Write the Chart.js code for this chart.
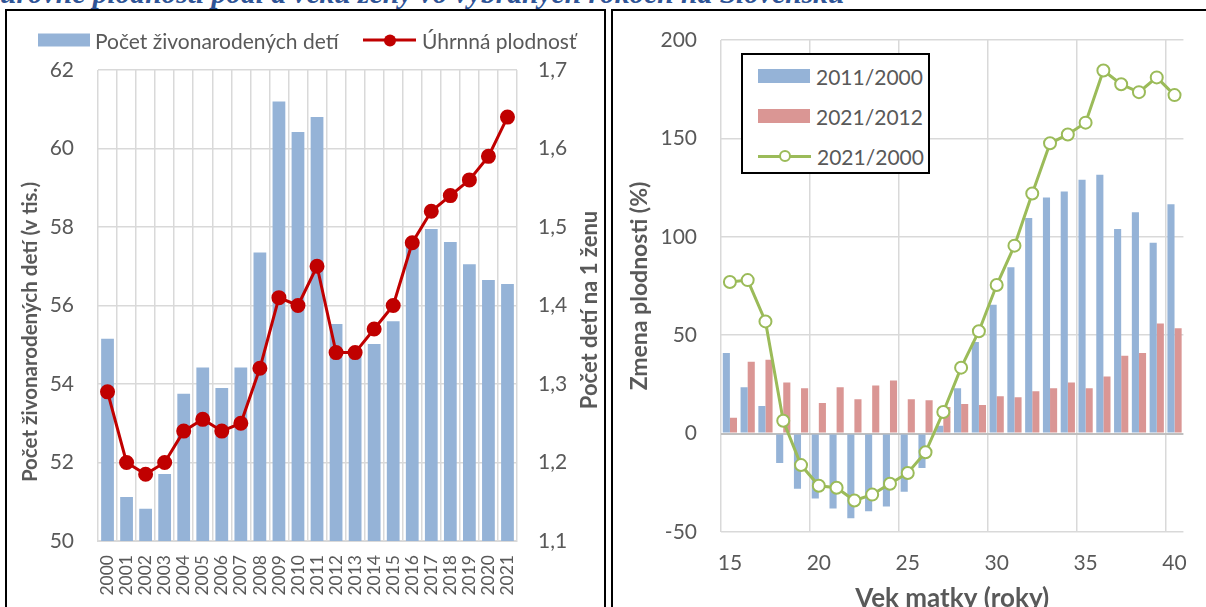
<!DOCTYPE html>
<html lang="sk">
<head>
<meta charset="utf-8">
<script src="https://cdn.jsdelivr.net/npm/chart.js@4.4.1/dist/chart.umd.min.js"></script>
<style>
html, body { margin: 0; padding: 0; }
body { width: 1206px; height: 607px; overflow: hidden; position: relative; background: #fff; font-family: Lato, sans-serif; color: #595959; }
#caption { position: absolute; left: 0; bottom: 598px; font: italic bold 28px/1 "Liberation Serif", serif; color: #2f5496; white-space: nowrap; }
.frame { position: absolute; border: 2px solid #000; box-sizing: border-box; }
#frameL { left: 5px; top: 9px; width: 601px; height: 640px; }
#frameR { left: 611px; top: 9px; width: 640px; height: 640px; border-width: 2px 0 0 2px; }
#wrapL { position: absolute; left: 0; top: 0; width: 605px; height: 607px; }
#wrapR { position: absolute; left: 612px; top: 0; width: 594px; height: 630px; }
#legL { position: absolute; left: 0; top: 27px; width: 600px; height: 26px; font-size: 21px; white-space: nowrap; }
#legL > * { position: absolute; top: 50%; transform: translateY(-50%); }
#legR { position: absolute; left: 741px; top: 53px; width: 189px; height: 121px; border: 2px solid #000; box-sizing: border-box; background: #fff; font-size: 21px; }
.row { position: absolute; left: 15px; display: flex; align-items: center; white-space: nowrap; }
.sw-bar { display: inline-block; width: 52px; height: 13px; margin-right: 6px; }
.sw-line { display: inline-block; position: relative; width: 53px; height: 3px; margin-right: 6px; }
.sw-line i { position: absolute; left: 50%; top: 50%; width: 12px; height: 12px; border-radius: 50%; transform: translate(-50%, -50%); box-sizing: border-box; }
</style>
</head>
<body>
<div id="caption">úrovne plodnosti podľa veku ženy vo vybraných rokoch na Slovensku</div>
<div class="frame" id="frameL"></div>
<div class="frame" id="frameR"></div>
<div id="wrapL"><canvas id="left"></canvas></div>
<div id="wrapR"><canvas id="right"></canvas></div>
<div id="legL"></div>
<div id="legR"></div>
<script>
// left chart: births (thousands) and total fertility rate
const years = ['2000', '2001', '2002', '2003', '2004', '2005', '2006', '2007', '2008', '2009', '2010',
    '2011', '2012', '2013', '2014', '2015', '2016', '2017', '2018', '2019', '2020', '2021']
const births = [55.15, 51.12, 50.82, 51.71, 53.75, 54.42, 53.9, 54.42, 57.35, 61.2, 60.42,
    60.8, 55.53, 54.82, 55.02, 55.6, 57.58, 57.95, 57.62, 57.05, 56.65, 56.55]
const tfr = [1.29, 1.2, 1.185, 1.2, 1.24, 1.255, 1.24, 1.25, 1.32, 1.41, 1.4,
    1.45, 1.34, 1.34, 1.37, 1.4, 1.48, 1.52, 1.54, 1.56, 1.59, 1.64]
const birthsLabel = 'Počet živonarodených detí'
const tfrLabel = 'Úhrnná plodnosť'
const birthsTitle = 'Počet živonarodených detí (v tis.)'
const tfrTitle = 'Počet detí na 1 ženu'

// right chart: change of fertility by mother's age (%)
const ages = ['15', '16', '17', '18', '19', '20', '21', '22', '23', '24', '25', '26', '27',
    '28', '29', '30', '31', '32', '33', '34', '35', '36', '37', '38', '39', '40']
const change2011 = [41, 23.5, 14, -15, -28, -33, -38, -43, -39.5, -37, -29.5, -17.5, 4,
    23, 46.5, 65.5, 84.5, 109.5, 120, 123, 129, 131.5, 104, 112.5, 97, 116.5]
const change2021 = [8, 36.5, 37.5, 26, 23, 15.5, 23.5, 17.5, 24.5, 27, 17.5, 17, 13.5,
    15, 14.5, 19, 18.5, 21.5, 23, 26, 23, 29, 39.5, 41, 56, 53.5]
const change2100 = [77, 78, 57, 6.5, -16, -26.5, -27.5, -34, -31, -25.5, -20, -9.5, 11,
    33.5, 52, 75.5, 95.5, 122, 147.5, 152, 158, 184.5, 177.5, 173.5, 181, 172]
const rightNames = ['2011/2000', '2021/2012', '2021/2000']
const ageTitle = 'Vek matky (roky)'
const changeTitle = 'Zmena plodnosti (%)'

const grey = '#595959'
const gridGrey = '#d9d9d9'
const blue = '#95b3d7'
const red = '#c00000'
const pink = '#da9694'
const green = '#9bbb59'

// caption is cut by the top edge, stretch it to its width in the source
const caption = document.getElementById('caption')
caption.style.fontSize = (28 * 845 / caption.offsetWidth) + 'px'

// legends
const legL = document.getElementById('legL')
legL.innerHTML = `<span class="sw-bar" style="left:38px;background:${blue}"></span>` +
    `<span style="left:95px">${birthsLabel}</span>` +
    `<span class="sw-line" style="left:363px;background:${red}"><i style="background:${red}"></i></span>` +
    `<span style="left:422px">${tfrLabel}</span>`

const legR = document.getElementById('legR')
let rows = ''
rightNames.forEach((name, i) => {
    const top = 8 + i * 40
    let sw
    if (i < 2) {
        sw = `<span class="sw-bar" style="background:${i == 0 ? blue : pink};height:14px"></span>`
    } else {
        sw = `<span class="sw-line" style="background:${green}"><i style="background:#fff;border:2px solid ${green}"></i></span>`
    }
    rows += `<div class="row" style="top:${top}px;height:26px">${sw}<span>${name}</span></div>`
})
legR.innerHTML = rows

// both axis titles of the left chart read upwards and sit off the plot centre,
// so they are drawn here rather than by the scales
function upText(ctx, text, x, y, size) {
    ctx.save()
    ctx.translate(x, y)
    ctx.rotate(-Math.PI / 2)
    ctx.font = `bold ${size}px Lato`
    ctx.fillStyle = grey
    ctx.textAlign = 'center'
    ctx.textBaseline = 'middle'
    ctx.fillText(text, 0, 0)
    ctx.restore()
}

const sideTitles = {
    id: 'sideTitles',
    afterDraw(chart) {
        upText(chart.ctx, birthsTitle, 30, 332, 20.5)
        upText(chart.ctx, tfrTitle, 590, 310, 22)
    }
}

new Chart(document.getElementById('left'), {
    data: {
        labels: years,
        datasets: [
            {
                type: 'line', label: tfrLabel, data: tfr, yAxisID: 'y1',
                borderColor: red, backgroundColor: red, borderWidth: 3, tension: 0,
                pointRadius: 6, pointBackgroundColor: red, pointBorderColor: red, order: 0
            },
            {
                type: 'bar', label: birthsLabel, data: births, yAxisID: 'y',
                backgroundColor: blue, barPercentage: 0.67, categoryPercentage: 1, order: 1
            }
        ]
    },
    options: {
        responsive: true,
        maintainAspectRatio: false,
        animation: false,
        layout: { padding: { top: 70, left: 0, right: 0, bottom: 0 } },
        plugins: { legend: { display: false }, tooltip: { enabled: false } },
        scales: {
            x: {
                offset: true,
                grid: { offset: true, color: gridGrey, lineWidth: 1.5, drawTicks: false },
                border: { color: gridGrey, width: 2 },
                ticks: { color: grey, font: { family: 'Lato', size: 17.5 }, maxRotation: 90, minRotation: 90, autoSkip: false, padding: 14 },
                afterFit: s => { s.height = 66 }
            },
            y: {
                position: 'left', min: 50, max: 62,
                ticks: { stepSize: 2, color: grey, font: { family: 'Lato', size: 21 }, padding: 24 },
                grid: { color: gridGrey, lineWidth: 1.5, drawTicks: false },
                border: { display: false },
                afterFit: s => { s.width = 98 }
            },
            y1: {
                position: 'right', min: 1.1, max: 1.7,
                ticks: { stepSize: 0.1, color: grey, font: { family: 'Lato', size: 21 }, padding: 21, callback: v => v.toFixed(1).replace('.', ',') },
                grid: { drawOnChartArea: false, drawTicks: false },
                border: { display: false },
                afterFit: s => { s.width = 88 }
            }
        }
    },
    plugins: [sideTitles]
})

new Chart(document.getElementById('right'), {
    data: {
        labels: ages,
        datasets: [
            {
                type: 'line', label: rightNames[2], data: change2100,
                borderColor: green, backgroundColor: '#fff', borderWidth: 3, tension: 0,
                pointRadius: 6, pointBorderWidth: 2, pointBackgroundColor: '#fff', pointBorderColor: green, order: 0
            },
            {
                type: 'bar', label: rightNames[0], data: change2011,
                backgroundColor: blue, barPercentage: 1, categoryPercentage: 0.8, order: 1
            },
            {
                type: 'bar', label: rightNames[1], data: change2021,
                backgroundColor: pink, barPercentage: 1, categoryPercentage: 0.8, order: 1
            }
        ]
    },
    options: {
        responsive: true,
        maintainAspectRatio: false,
        animation: false,
        layout: { padding: { top: 40, left: 0, right: 15, bottom: 0 } },
        plugins: { legend: { display: false }, tooltip: { enabled: false } },
        scales: {
            x: {
                offset: true,
                grid: {
                    offset: true, drawTicks: false, lineWidth: 1.5,
                    color: c => (c.index % 5 === 0 && c.index < ages.length) ? gridGrey : 'rgba(0,0,0,0)'
                },
                border: { display: false },
                ticks: {
                    color: grey, font: { family: 'Lato', size: 21 }, autoSkip: false, maxRotation: 0, padding: 19,
                    callback: (v, i) => (Number(ages[i]) % 5 === 0 ? ages[i] : '')
                },
                title: { display: true, text: ageTitle, color: grey, font: { family: 'Lato', size: 26, weight: 'bold' }, padding: { bottom: 16 } },
                afterFit: s => { s.height = 98 }
            },
            y: {
                min: -50, max: 200,
                ticks: { stepSize: 50, color: grey, font: { family: 'Lato', size: 21 }, padding: 24 },
                grid: {
                    drawTicks: false,
                    color: c => (c.tick && c.tick.value === 0) ? '#bfbfbf' : gridGrey,
                    lineWidth: c => (c.tick && c.tick.value === 0) ? 2 : 1.5
                },
                border: { display: false },
                title: { display: true, text: changeTitle, color: grey, font: { family: 'Lato', size: 23, weight: 'bold' }, padding: { top: 14 } },
                afterFit: s => { s.width = 109 }
            }
        }
    }
})
</script>
</body>
</html>
